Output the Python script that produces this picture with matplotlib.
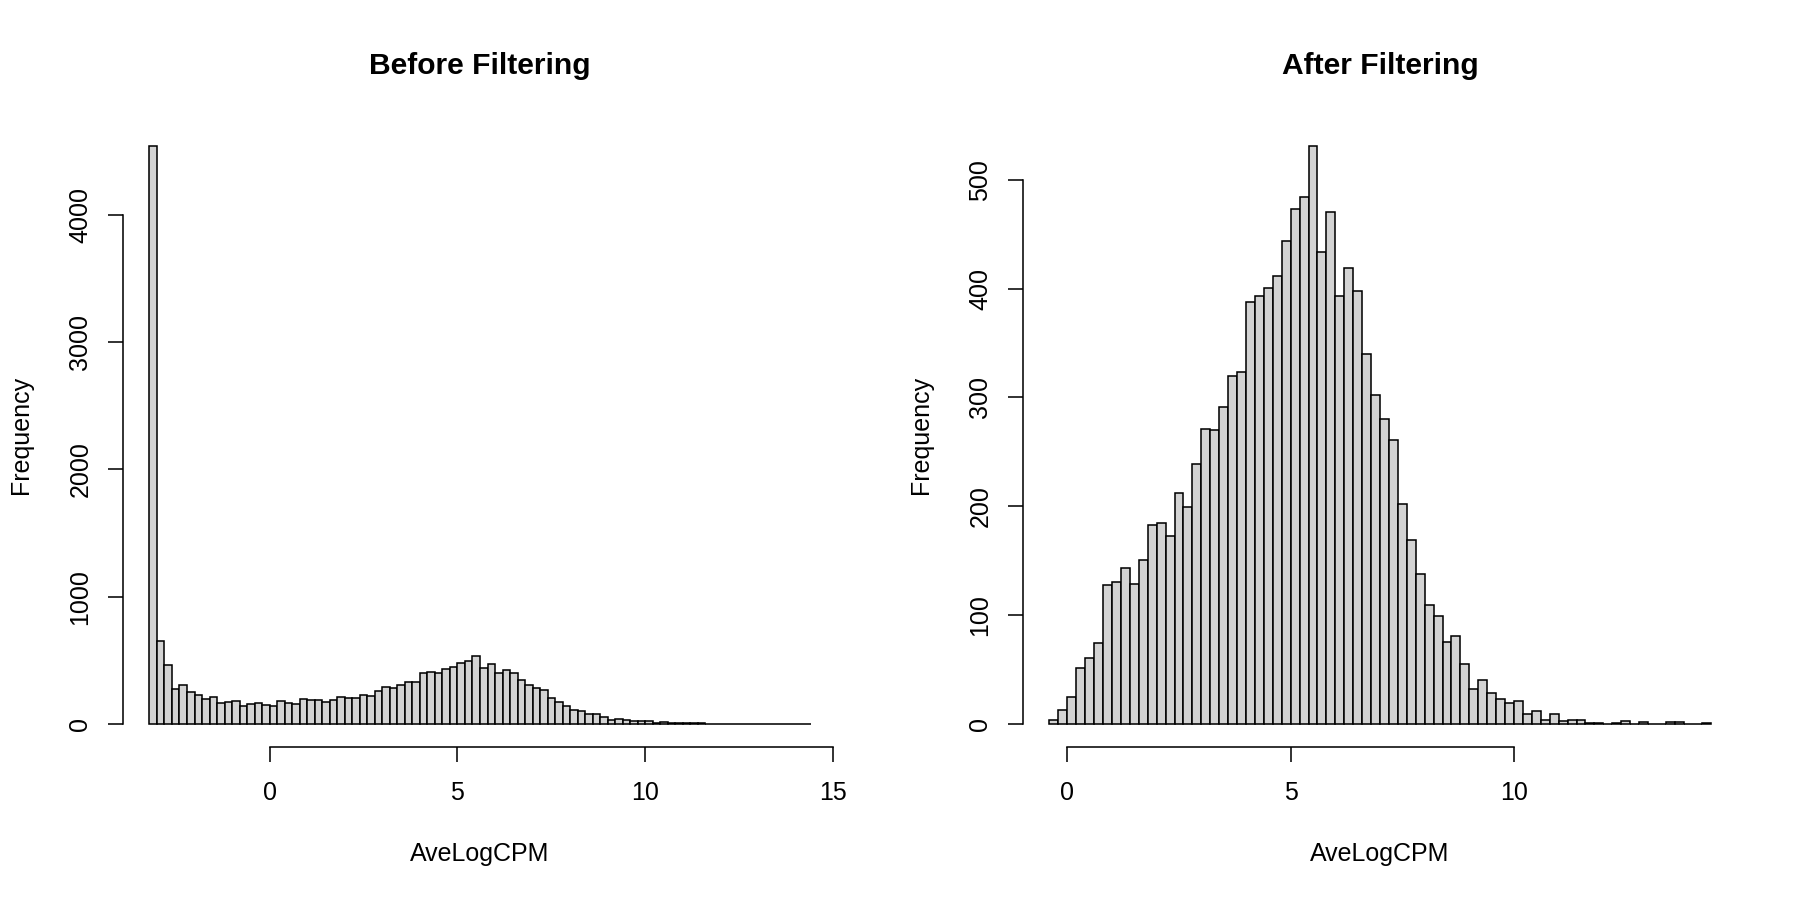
import numpy as np
import matplotlib
matplotlib.use("Agg")
import matplotlib.pyplot as plt

plt.rcParams["font.family"] = ["Liberation Sans", "DejaVu Sans"]

bin_width = 0.2

# Before filtering: bins start at -3.2
before_start = -3.2
before_counts = [4540, 651, 466, 275, 306, 251, 225, 194, 209, 165, 173, 181, 144, 157, 162, 146,
                 141, 183, 165, 154, 194, 188, 188, 175, 188, 209, 204, 204, 225, 220, 259, 288, 283, 303, 330, 330,
                 396, 404, 403, 428, 448, 480, 492, 533, 443, 472, 402, 424, 401, 341, 304, 284, 263, 202, 169, 138,
                 110, 99, 76, 81, 55, 32, 41, 29, 24, 19, 21, 10, 13, 5, 9, 4, 5, 5, 2, 1,
                 1, 1, 3, 1, 2, 0, 1, 2, 2, 1, 0, 1]
before_xticks = [0, 5, 10, 15]
before_yticks = [0, 1000, 2000, 3000, 4000]

# After filtering: bins start at -0.4
after_start = -0.4
after_counts = [4, 13,
                25, 51, 61, 74, 128, 130, 143, 129, 151, 183, 185, 173, 212, 199, 239, 271, 270, 291, 320, 323,
                388, 393, 401, 412, 444, 473, 484, 531, 434, 470, 393, 419, 398, 340, 302, 280, 261, 202, 169, 138,
                109, 99, 75, 81, 55, 32, 40, 28, 23, 19, 21, 9, 12, 4, 9, 3, 4, 4, 1, 1,
                0, 1, 3, 0, 2, 0, 0, 2, 2, 0, 0, 1]
after_xticks = [0, 5, 10]
after_yticks = [0, 100, 200, 300, 400, 500]

W, H = 1800, 900
fig = plt.figure(figsize=(12, 6), dpi=150)


def draw_hist(left_px, start, counts, xticks, yticks, title):
    ax = fig.add_axes([left_px / W, 153 / H, 714 / W, 624 / H])
    n = len(counts)
    lefts = start + bin_width * np.arange(n)
    ax.bar(lefts, counts, width=bin_width, align="edge", color="#D3D3D3",
           edgecolor="black", linewidth=0.75)
    lo, hi = start, start + bin_width * n
    rx = hi - lo
    ax.set_xlim(lo - 0.04 * rx, hi + 0.04 * rx)
    ymax = max(counts)
    ax.set_ylim(-0.04 * ymax, 1.04 * ymax)

    for s in ["top", "right"]:
        ax.spines[s].set_visible(False)
    ax.spines["left"].set_bounds(yticks[0], yticks[-1])
    ax.spines["bottom"].set_bounds(xticks[0], xticks[-1])
    for s in ["left", "bottom"]:
        ax.spines[s].set_linewidth(0.75)

    ax.set_xticks(xticks)
    ax.set_xticklabels([str(t) for t in xticks])
    ax.set_yticks(yticks)
    ax.set_yticklabels([str(t) for t in yticks], rotation=90, va="center")
    ax.tick_params(length=7.2, width=0.75, labelsize=12)
    ax.tick_params(axis="x", pad=9)
    ax.tick_params(axis="y", pad=7.5)

    ax.annotate(title, xy=(0.5, 1), xycoords="axes fraction", xytext=(0, 27.5),
                textcoords="offset points", ha="center", va="center",
                fontsize=14.4, fontweight="bold")
    ax.annotate("AveLogCPM", xy=(0.5, 0), xycoords="axes fraction", xytext=(0, -51.5),
                textcoords="offset points", ha="center", va="center", fontsize=12)
    ax.annotate("Frequency", xy=(0, 0.5), xycoords="axes fraction", xytext=(-49, 0),
                textcoords="offset points", ha="center", va="center", fontsize=12,
                rotation=90)
    return ax


draw_hist(123, before_start, before_counts, before_xticks, before_yticks, "Before Filtering")
draw_hist(1023, after_start, after_counts, after_xticks, after_yticks, "After Filtering")

fig.savefig("out.png", dpi=150)
